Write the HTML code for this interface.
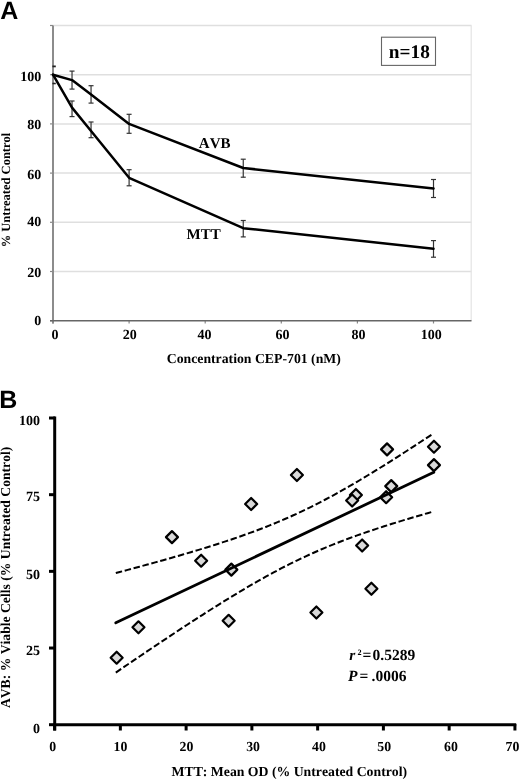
<!DOCTYPE html><html><head><meta charset="utf-8"><style>html,body{margin:0;padding:0;background:#fff;}svg{display:block;filter:grayscale(1);}text{font-family:"Liberation Serif",serif;font-weight:bold;font-kerning:none;text-rendering:geometricPrecision;}</style></head><body><svg width="520" height="779" viewBox="0 0 520 779"><rect width="520" height="779" fill="#fff"/><text x="0.3" y="18.8" style="font-family:'Liberation Sans',sans-serif;font-weight:bold;font-size:25px">A</text><line x1="53" y1="271.50" x2="471.5" y2="271.50" stroke="#dfdfdf" stroke-width="1.5"/><line x1="53" y1="222.30" x2="471.5" y2="222.30" stroke="#dfdfdf" stroke-width="1.5"/><line x1="53" y1="173.10" x2="471.5" y2="173.10" stroke="#dfdfdf" stroke-width="1.5"/><line x1="53" y1="123.90" x2="471.5" y2="123.90" stroke="#dfdfdf" stroke-width="1.5"/><line x1="53" y1="74.70" x2="471.5" y2="74.70" stroke="#dfdfdf" stroke-width="1.5"/><line x1="53" y1="25.50" x2="471.5" y2="25.50" stroke="#dfdfdf" stroke-width="1.5"/><line x1="471.2" y1="25.50" x2="471.2" y2="320.70" stroke="#e4e4e4" stroke-width="1.2"/><line x1="50" y1="320.70" x2="53" y2="320.70" stroke="#888" stroke-width="1.2"/><line x1="50" y1="271.50" x2="53" y2="271.50" stroke="#888" stroke-width="1.2"/><line x1="50" y1="222.30" x2="53" y2="222.30" stroke="#888" stroke-width="1.2"/><line x1="50" y1="173.10" x2="53" y2="173.10" stroke="#888" stroke-width="1.2"/><line x1="50" y1="123.90" x2="53" y2="123.90" stroke="#888" stroke-width="1.2"/><line x1="50" y1="74.70" x2="53" y2="74.70" stroke="#888" stroke-width="1.2"/><line x1="50" y1="25.50" x2="53" y2="25.50" stroke="#888" stroke-width="1.2"/><line x1="53.00" y1="320.70" x2="53.00" y2="323.5" stroke="#888" stroke-width="1.2"/><line x1="129.10" y1="320.70" x2="129.10" y2="323.5" stroke="#888" stroke-width="1.2"/><line x1="205.20" y1="320.70" x2="205.20" y2="323.5" stroke="#888" stroke-width="1.2"/><line x1="281.30" y1="320.70" x2="281.30" y2="323.5" stroke="#888" stroke-width="1.2"/><line x1="357.40" y1="320.70" x2="357.40" y2="323.5" stroke="#888" stroke-width="1.2"/><line x1="433.50" y1="320.70" x2="433.50" y2="323.5" stroke="#888" stroke-width="1.2"/><line x1="53" y1="25.50" x2="53" y2="323.5" stroke="#8c8c8c" stroke-width="2"/><line x1="50" y1="320.70" x2="471.5" y2="320.70" stroke="#666" stroke-width="1.6"/><text x="41.3" y="324.65" text-anchor="end" font-size="14">0</text><text x="41.3" y="276.75" text-anchor="end" font-size="14">20</text><text x="41.3" y="226.00" text-anchor="end" font-size="14">40</text><text x="41.3" y="178.60" text-anchor="end" font-size="14">60</text><text x="41.3" y="129.30" text-anchor="end" font-size="14">80</text><text x="41.3" y="80.80" text-anchor="end" font-size="14">100</text><text x="55.00" y="338.8" text-anchor="middle" font-size="14">0</text><text x="129.80" y="338.8" text-anchor="middle" font-size="14">20</text><text x="204.60" y="338.8" text-anchor="middle" font-size="14">40</text><text x="282.40" y="338.8" text-anchor="middle" font-size="14">60</text><text x="358.45" y="338.8" text-anchor="middle" font-size="14">80</text><text x="431.20" y="338.8" text-anchor="middle" font-size="14">100</text><text x="253.8" y="362.9" text-anchor="middle" font-size="13.75">Concentration CEP-701 (nM)</text><text transform="translate(9.9,190) rotate(-90)" text-anchor="middle" font-size="12.5">% Untreated Control</text><line x1="72.03" y1="71.10" x2="72.03" y2="89.10" stroke="#333" stroke-width="1.2"/><line x1="69.53" y1="71.10" x2="74.53" y2="71.10" stroke="#333" stroke-width="1.2"/><line x1="69.53" y1="89.10" x2="74.53" y2="89.10" stroke="#333" stroke-width="1.2"/><line x1="91.05" y1="85.70" x2="91.05" y2="103.10" stroke="#333" stroke-width="1.2"/><line x1="88.55" y1="85.70" x2="93.55" y2="85.70" stroke="#333" stroke-width="1.2"/><line x1="88.55" y1="103.10" x2="93.55" y2="103.10" stroke="#333" stroke-width="1.2"/><line x1="129.10" y1="114.30" x2="129.10" y2="133.30" stroke="#333" stroke-width="1.2"/><line x1="126.60" y1="114.30" x2="131.60" y2="114.30" stroke="#333" stroke-width="1.2"/><line x1="126.60" y1="133.30" x2="131.60" y2="133.30" stroke="#333" stroke-width="1.2"/><line x1="243.25" y1="159.20" x2="243.25" y2="177.20" stroke="#333" stroke-width="1.2"/><line x1="240.75" y1="159.20" x2="245.75" y2="159.20" stroke="#333" stroke-width="1.2"/><line x1="240.75" y1="177.20" x2="245.75" y2="177.20" stroke="#333" stroke-width="1.2"/><line x1="433.50" y1="179.50" x2="433.50" y2="197.50" stroke="#333" stroke-width="1.2"/><line x1="431.00" y1="179.50" x2="436.00" y2="179.50" stroke="#333" stroke-width="1.2"/><line x1="431.00" y1="197.50" x2="436.00" y2="197.50" stroke="#333" stroke-width="1.2"/><line x1="72.03" y1="101.00" x2="72.03" y2="116.60" stroke="#333" stroke-width="1.2"/><line x1="69.53" y1="101.00" x2="74.53" y2="101.00" stroke="#333" stroke-width="1.2"/><line x1="69.53" y1="116.60" x2="74.53" y2="116.60" stroke="#333" stroke-width="1.2"/><line x1="91.05" y1="122.00" x2="91.05" y2="137.70" stroke="#333" stroke-width="1.2"/><line x1="88.55" y1="122.00" x2="93.55" y2="122.00" stroke="#333" stroke-width="1.2"/><line x1="88.55" y1="137.70" x2="93.55" y2="137.70" stroke="#333" stroke-width="1.2"/><line x1="129.10" y1="169.70" x2="129.10" y2="185.80" stroke="#333" stroke-width="1.2"/><line x1="126.60" y1="169.70" x2="131.60" y2="169.70" stroke="#333" stroke-width="1.2"/><line x1="126.60" y1="185.80" x2="131.60" y2="185.80" stroke="#333" stroke-width="1.2"/><line x1="243.25" y1="220.50" x2="243.25" y2="236.90" stroke="#333" stroke-width="1.2"/><line x1="240.75" y1="220.50" x2="245.75" y2="220.50" stroke="#333" stroke-width="1.2"/><line x1="240.75" y1="236.90" x2="245.75" y2="236.90" stroke="#333" stroke-width="1.2"/><line x1="433.50" y1="240.60" x2="433.50" y2="257.20" stroke="#333" stroke-width="1.2"/><line x1="431.00" y1="240.60" x2="436.00" y2="240.60" stroke="#333" stroke-width="1.2"/><line x1="431.00" y1="257.20" x2="436.00" y2="257.20" stroke="#333" stroke-width="1.2"/><line x1="52.4" y1="66.4" x2="55.8" y2="66.4" stroke="#222" stroke-width="1.8"/><line x1="52.4" y1="83.5" x2="55.8" y2="83.5" stroke="#222" stroke-width="1.6"/><polyline points="53.00,74.70 72.03,80.10 91.05,94.50 129.10,123.90 243.25,168.00 433.50,188.50" fill="none" stroke="#000" stroke-width="2.5" stroke-linejoin="round" stroke-linecap="round"/><polyline points="53.00,74.70 72.03,107.60 91.05,131.00 129.10,177.80 243.25,228.20 433.50,248.80" fill="none" stroke="#000" stroke-width="2.5" stroke-linejoin="round" stroke-linecap="round"/><text x="198.8" y="147.8" font-size="15">AVB</text><text x="186.5" y="239" font-size="15">MTT</text><rect x="381.5" y="37.2" width="54" height="28.2" fill="#fff" stroke="#666" stroke-width="1.1"/><text x="409.3" y="58.3" text-anchor="middle" font-size="19.3">n=18</text><text x="-0.7" y="407.7" style="font-family:'Liberation Sans',sans-serif;font-weight:bold;font-size:25px">B</text><polyline points="115.80,573.05 119.75,572.01 123.69,570.96 127.64,569.90 131.59,568.84 135.53,567.78 139.48,566.71 143.42,565.64 147.37,564.56 151.32,563.47 155.26,562.38 159.21,561.28 163.16,560.18 167.10,559.06 171.05,557.94 174.99,556.81 178.94,555.68 182.89,554.53 186.83,553.37 190.78,552.21 194.72,551.03 198.67,549.84 202.62,548.64 206.56,547.42 210.51,546.19 214.46,544.95 218.40,543.69 222.35,542.41 226.30,541.12 230.24,539.81 234.19,538.47 238.13,537.12 242.08,535.74 246.03,534.34 249.97,532.92 253.92,531.47 257.87,529.99 261.81,528.49 265.76,526.95 269.70,525.38 273.65,523.78 277.60,522.15 281.54,520.49 285.49,518.78 289.44,517.05 293.38,515.27 297.33,513.46 301.27,511.61 305.22,509.73 309.17,507.81 313.11,505.85 317.06,503.85 321.00,501.82 324.95,499.76 328.90,497.66 332.84,495.52 336.79,493.36 340.74,491.16 344.68,488.93 348.63,486.68 352.57,484.39 356.52,482.09 360.47,479.75 364.41,477.39 368.36,475.01 372.31,472.61 376.25,470.19 380.20,467.75 384.14,465.30 388.09,462.82 392.04,460.33 395.98,457.83 399.93,455.31 403.88,452.77 407.82,450.23 411.77,447.67 415.72,445.10 419.66,442.53 423.61,439.94 427.55,437.34 431.50,434.73" fill="none" stroke="#000" stroke-width="2" stroke-dasharray="6.5,2.7"/><polyline points="115.80,672.55 119.75,669.86 123.69,667.17 127.64,664.49 131.59,661.82 135.53,659.15 139.48,656.48 143.42,653.82 147.37,651.16 151.32,648.51 155.26,645.87 159.21,643.23 163.16,640.60 167.10,637.98 171.05,635.36 174.99,632.76 178.94,630.16 182.89,627.57 186.83,624.99 190.78,622.42 194.72,619.86 198.67,617.32 202.62,614.79 206.56,612.26 210.51,609.76 214.46,607.27 218.40,604.79 222.35,602.33 226.30,599.89 230.24,597.47 234.19,595.07 238.13,592.69 242.08,590.33 246.03,587.99 249.97,585.68 253.92,583.39 257.87,581.14 261.81,578.91 265.76,576.71 269.70,574.54 273.65,572.40 277.60,570.30 281.54,568.23 285.49,566.20 289.44,564.20 293.38,562.24 297.33,560.31 301.27,558.43 305.22,556.58 309.17,554.76 313.11,552.99 317.06,551.25 321.00,549.54 324.95,547.87 328.90,546.24 332.84,544.64 336.79,543.07 340.74,541.53 344.68,540.02 348.63,538.54 352.57,537.09 356.52,535.66 360.47,534.26 364.41,532.88 368.36,531.53 372.31,530.19 376.25,528.88 380.20,527.58 384.14,526.31 388.09,525.04 392.04,523.80 395.98,522.57 399.93,521.35 403.88,520.15 407.82,518.96 411.77,517.78 415.72,516.61 419.66,515.46 423.61,514.31 427.55,513.17 431.50,512.04" fill="none" stroke="#000" stroke-width="2" stroke-dasharray="6.5,2.7"/><path d="M116.65 651.70L122.65 657.70L116.65 663.70L110.65 657.70Z" fill="#d9d9d9" stroke="#000" stroke-width="2.2" stroke-linejoin="round"/><path d="M138.45 621.30L144.45 627.30L138.45 633.30L132.45 627.30Z" fill="#d9d9d9" stroke="#000" stroke-width="2.2" stroke-linejoin="round"/><path d="M171.95 531.10L177.95 537.10L171.95 543.10L165.95 537.10Z" fill="#d9d9d9" stroke="#000" stroke-width="2.2" stroke-linejoin="round"/><path d="M201.15 554.70L207.15 560.70L201.15 566.70L195.15 560.70Z" fill="#d9d9d9" stroke="#000" stroke-width="2.2" stroke-linejoin="round"/><path d="M231.35 563.60L237.35 569.60L231.35 575.60L225.35 569.60Z" fill="#d9d9d9" stroke="#000" stroke-width="2.2" stroke-linejoin="round"/><path d="M228.65 614.80L234.65 620.80L228.65 626.80L222.65 620.80Z" fill="#d9d9d9" stroke="#000" stroke-width="2.2" stroke-linejoin="round"/><path d="M251.15 498.00L257.15 504.00L251.15 510.00L245.15 504.00Z" fill="#d9d9d9" stroke="#000" stroke-width="2.2" stroke-linejoin="round"/><path d="M296.90 469.00L302.90 475.00L296.90 481.00L290.90 475.00Z" fill="#d9d9d9" stroke="#000" stroke-width="2.2" stroke-linejoin="round"/><path d="M316.40 606.50L322.40 612.50L316.40 618.50L310.40 612.50Z" fill="#d9d9d9" stroke="#000" stroke-width="2.2" stroke-linejoin="round"/><path d="M355.90 489.00L361.90 495.00L355.90 501.00L349.90 495.00Z" fill="#d9d9d9" stroke="#000" stroke-width="2.2" stroke-linejoin="round"/><path d="M352.15 494.50L358.15 500.50L352.15 506.50L346.15 500.50Z" fill="#d9d9d9" stroke="#000" stroke-width="2.2" stroke-linejoin="round"/><path d="M362.15 539.50L368.15 545.50L362.15 551.50L356.15 545.50Z" fill="#d9d9d9" stroke="#000" stroke-width="2.2" stroke-linejoin="round"/><path d="M371.40 582.75L377.40 588.75L371.40 594.75L365.40 588.75Z" fill="#d9d9d9" stroke="#000" stroke-width="2.2" stroke-linejoin="round"/><path d="M387.05 443.40L393.05 449.40L387.05 455.40L381.05 449.40Z" fill="#d9d9d9" stroke="#000" stroke-width="2.2" stroke-linejoin="round"/><path d="M386.15 491.20L392.15 497.20L386.15 503.20L380.15 497.20Z" fill="#d9d9d9" stroke="#000" stroke-width="2.2" stroke-linejoin="round"/><path d="M391.25 480.10L397.25 486.10L391.25 492.10L385.25 486.10Z" fill="#d9d9d9" stroke="#000" stroke-width="2.2" stroke-linejoin="round"/><path d="M433.95 440.70L439.95 446.70L433.95 452.70L427.95 446.70Z" fill="#d9d9d9" stroke="#000" stroke-width="2.2" stroke-linejoin="round"/><path d="M433.95 459.10L439.95 465.10L433.95 471.10L427.95 465.10Z" fill="#d9d9d9" stroke="#000" stroke-width="2.2" stroke-linejoin="round"/><line x1="115.8" y1="622.8" x2="433.8" y2="472.3" stroke="#000" stroke-width="2.8" stroke-linecap="round"/><line x1="54.7" y1="416.6" x2="54.7" y2="730.6" stroke="#000" stroke-width="3"/><line x1="53.3" y1="724.8" x2="516.2" y2="724.8" stroke="#000" stroke-width="3"/><line x1="49" y1="724.70" x2="55" y2="724.70" stroke="#000" stroke-width="3"/><line x1="49" y1="648.03" x2="55" y2="648.03" stroke="#000" stroke-width="3"/><line x1="49" y1="571.35" x2="55" y2="571.35" stroke="#000" stroke-width="3"/><line x1="49" y1="494.68" x2="55" y2="494.68" stroke="#000" stroke-width="3"/><line x1="49" y1="418.00" x2="55" y2="418.00" stroke="#000" stroke-width="3"/><line x1="54.60" y1="724" x2="54.60" y2="730.5" stroke="#000" stroke-width="3"/><line x1="120.36" y1="724" x2="120.36" y2="730.5" stroke="#000" stroke-width="3"/><line x1="186.12" y1="724" x2="186.12" y2="730.5" stroke="#000" stroke-width="3"/><line x1="251.88" y1="724" x2="251.88" y2="730.5" stroke="#000" stroke-width="3"/><line x1="317.64" y1="724" x2="317.64" y2="730.5" stroke="#000" stroke-width="3"/><line x1="383.40" y1="724" x2="383.40" y2="730.5" stroke="#000" stroke-width="3"/><line x1="449.16" y1="724" x2="449.16" y2="730.5" stroke="#000" stroke-width="3"/><line x1="514.92" y1="724" x2="514.92" y2="730.5" stroke="#000" stroke-width="3"/><text x="40.1" y="732.65" text-anchor="end" font-size="14">0</text><text x="40.1" y="654.65" text-anchor="end" font-size="14">25</text><text x="40.1" y="578.65" text-anchor="end" font-size="14">50</text><text x="40.1" y="500.85" text-anchor="end" font-size="14">75</text><text x="40.1" y="424.85" text-anchor="end" font-size="14">100</text><text x="52.60" y="750.8" text-anchor="middle" font-size="13.8">0</text><text x="120.40" y="750.8" text-anchor="middle" font-size="13.8">10</text><text x="186.50" y="750.8" text-anchor="middle" font-size="13.8">20</text><text x="253.10" y="750.8" text-anchor="middle" font-size="13.8">30</text><text x="318.90" y="750.8" text-anchor="middle" font-size="13.8">40</text><text x="384.20" y="750.8" text-anchor="middle" font-size="13.8">50</text><text x="450.90" y="750.8" text-anchor="middle" font-size="13.8">60</text><text x="512.50" y="750.8" text-anchor="middle" font-size="13.8">70</text><text x="289.3" y="776.3" text-anchor="middle" font-size="13.75">MTT: Mean OD (% Untreated Control)</text><text transform="translate(10.2,577.4) rotate(-90)" text-anchor="middle" font-size="13.65">AVB: % Viable Cells (% Untreated Control)</text><text font-size="15.5"><tspan x="349.3" y="659.6" font-style="italic">r</tspan><tspan x="357.6" y="654.6" font-size="8.2">2</tspan><tspan x="362.4" y="659.6">=</tspan><tspan x="372.5" y="659.6">0.5289</tspan></text><text font-size="15.5"><tspan x="348" y="681" font-style="italic">P</tspan><tspan x="359.6" y="681">=</tspan><tspan x="371.6" y="681">.0006</tspan></text></svg></body></html>
